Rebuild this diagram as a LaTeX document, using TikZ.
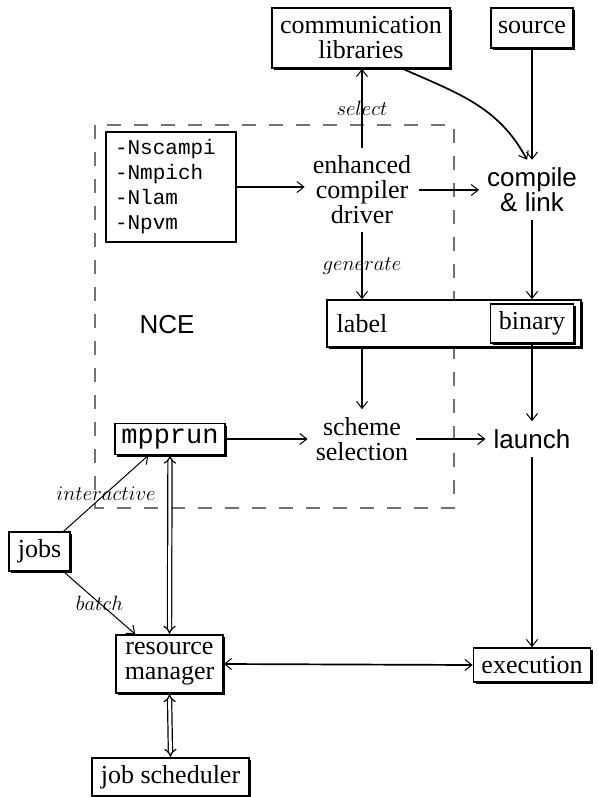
\documentclass[tikz,border=0pt]{standalone}
\usepackage{fontspec}
\setmainfont{Liberation Serif}
\setsansfont{Liberation Sans}
\setmonofont{Liberation Mono}
\usetikzlibrary{arrows.meta,shadows}
\tikzset{
  box/.style={draw, line width=1.6pt, fill=white, inner sep=0pt, align=center,
    font=\fontsize{26}{25}\selectfont,
    drop shadow={shadow xshift=2pt, shadow yshift=-2pt, opacity=1, fill=black}},
  plainbox/.style={draw, line width=1.6pt, fill=white, inner sep=0pt},
  txt/.style={inner sep=8pt, align=center, font=\fontsize{26}{25}\selectfont},
  stxt/.style={inner sep=8pt, align=center, font=\sffamily\fontsize{26}{25}\selectfont},
  lbl/.style={inner sep=0pt, font=\fontsize{21}{21}\selectfont},
  tip/.tip={Straight Barb[length=7pt,width=11pt,line width=1pt]},
  conn/.style={line width=1.7pt, -tip},
  thin/.style={line width=1pt, -tip},
  dbl/.style={double, double distance=3pt, line width=1.2pt, {Implies[length=6pt]}-{Implies[length=6pt]}},
  nce/.style={draw=black!55, line width=1.4pt, dash pattern=on 14pt off 13pt}
}
\begin{document}
\begin{tikzpicture}[x=1pt,y=-1pt]
\useasboundingbox (0,0) rectangle (597,797);
% NCE frame
\draw[nce] (95,125) rectangle (454,508);
\node[stxt, inner sep=0pt] (nce) at (167,325) {NCE};
% nodes
\node[box, minimum width=178pt, minimum height=60pt] (comm) at (361,38) {communication\\libraries};
\node[box, minimum width=82pt, minimum height=40pt] (source) at (532,28) {source};
\node[plainbox, minimum width=130pt, minimum height=110pt, text width=112pt, align=left,
  font=\ttfamily\fontsize{21}{25}\selectfont] (opts) at (171,187) {-Nscampi\\-Nmpich\\-Nlam\\-Npvm};
\node[txt] (ecd) at (362,190) {enhanced\\compiler\\driver};
\node[stxt] (compile) at (532,190) {compile\\\& link};
\node[box, minimum width=254pt, minimum height=47pt] (outer) at (454,323.5) {};
\node[txt, inner sep=0pt] (label) at (362,324) {label};
\node[box, minimum width=83pt, minimum height=39pt] (binary) at (532,323.5) {binary};
\node[txt] (scheme) at (362,439) {scheme\\selection};
\node[stxt] (launch) at (532,439) {launch};
\node[box, minimum width=110pt, minimum height=31pt, font=\ttfamily\fontsize{27}{27}\selectfont] (mpprun) at (170,439) {mpprun};
\node[box, minimum width=61pt, minimum height=39pt] (jobs) at (39.5,551.5) {jobs};
\node[box, minimum width=107pt, minimum height=58pt] (resource) at (169.5,664) {resource\\manager};
\node[box, minimum width=117pt, minimum height=34pt] (execution) at (532,665) {execution};
\node[box, minimum width=157pt, minimum height=38pt] (jobsched) at (170.5,777) {job scheduler};
% connectors
\draw[conn] (ecd.north) -- node[lbl] {$select$} (comm.south -| ecd.north);
\draw[conn] (opts.east) -- (ecd.west |- opts.east);
\draw[conn] (ecd.east) -- (compile.west |- ecd.east);
\draw[conn] (source.south) -- (compile.north);
\draw[conn] ([xshift=-48pt]comm.south east) to[out=-24,in=118] ([xshift=-5pt]compile.north);
\draw[conn] (ecd.south) -- node[lbl] {$generate$} (ecd.south |- outer.north);
\draw[conn] (compile.south) -- (compile.south |- outer.north);
\draw[conn] (label.south |- outer.south) -- (scheme.north);
\draw[conn] (binary.south) -- (launch.north);
\draw[conn] (mpprun.east) -- (scheme.west |- mpprun.east);
\draw[conn] (scheme.east) -- (launch.west);
\draw[conn] (launch.south) -- (execution.north);
\draw[thin] (jobs.40) -- node[lbl] {$interactive$} (mpprun.217);
\draw[thin] (jobs.-40) -- node[lbl] {$batch$} (resource.139);
\draw[dbl] (mpprun.south) -- (resource.north);
\draw[dbl] (resource.south) -- (jobsched.north);
\draw[conn, tip-tip] (resource.east) -- (execution.west);
\end{tikzpicture}
\end{document}
